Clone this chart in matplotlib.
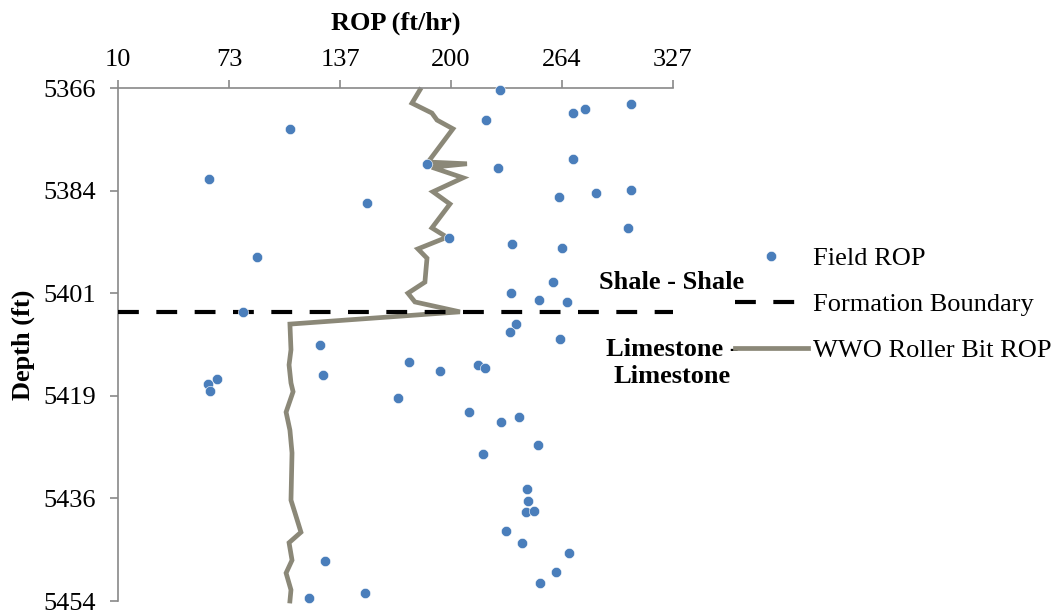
import numpy as np
import matplotlib
matplotlib.use("Agg")
from matplotlib import pyplot as plt
from matplotlib.ticker import FixedLocator, FixedFormatter

plt.rcParams['font.family'] = ['Liberation Serif', 'DejaVu Serif']
plt.rcParams['font.size'] = 19

# field ROP measurements (ft/hr) vs depth (ft)
field_rop = [228.2, 303.0, 276.7, 269.9, 108.2, 220.2, 269.9, 186.5, 227.0, 303.0,
             283.0, 261.9, 62.0, 152.2, 301.3, 199.1, 235.0, 263.6, 89.4, 258.5,
             234.5, 250.5, 266.5, 81.4, 237.3, 233.9, 262.5, 125.4, 176.2, 215.6,
             219.6, 193.9, 127.1, 66.5, 61.4, 62.5, 169.9, 210.5, 239.0, 228.8,
             249.9, 218.5, 243.6, 244.2, 243.0, 247.6, 231.6, 240.8, 267.6, 128.2,
             260.2, 251.0, 151.1, 119.1]
field_depth = [5366.3, 5368.7, 5369.6, 5370.3, 5373.0, 5371.5, 5378.2, 5379.0, 5379.7, 5383.5,
               5384.0, 5384.7, 5381.6, 5385.7, 5390.0, 5391.7, 5392.8, 5393.4, 5395.0, 5399.3,
               5401.2, 5402.4, 5402.7, 5404.4, 5406.5, 5407.9, 5409.1, 5410.1, 5413.0, 5413.5,
               5414.0, 5414.5, 5415.2, 5415.9, 5416.8, 5418.0, 5419.2, 5421.6, 5422.4, 5423.3,
               5427.2, 5428.8, 5434.8, 5436.8, 5438.7, 5438.6, 5442.0, 5444.0, 5445.8, 5447.1,
               5449.0, 5450.9, 5452.6, 5453.5]

# WWO roller bit model ROP
model_rop = [182.5, 177.9, 189.3, 192.2, 201.3, 187.1, 209.3, 189.3, 207.1, 189.9,
             199.6, 189.3, 197.9, 181.3, 186.5, 185.9, 185.3, 175.6, 179.6, 205.3,
             108.2, 108.8, 107.7, 108.8, 110.0, 106.0, 108.2, 109.4, 108.8, 111.1,
             114.5, 107.7, 109.4, 106.0, 108.8, 108.2]
model_depth = [5366.3, 5368.6, 5370.3, 5371.5, 5373.0, 5378.7, 5379.0, 5379.6, 5381.4, 5383.8,
               5385.9, 5390.0, 5391.6, 5393.6, 5395.2, 5397.2, 5399.3, 5401.2, 5402.7, 5404.4,
               5406.5, 5410.9, 5413.5, 5416.6, 5418.1, 5421.6, 5424.7, 5428.6, 5436.7, 5438.9,
               5442.2, 5444.0, 5447.0, 5449.2, 5452.1, 5454.0]

boundary_depth = 5404.4
x_min, x_max = 10, 327
d_min, d_max = 5366, 5454

W, H = 1057, 616
fig = plt.figure(figsize=(W / 100, H / 100), dpi=100)
ax = fig.add_axes([118 / W, 1 - 601 / H, 555 / W, 513 / H])

ax.plot(model_rop, model_depth, color='#8B8878', lw=3.4, solid_joinstyle='miter',
        label='WWO Roller Bit ROP', zorder=2, clip_on=False)
ax.plot([x_min, x_max], [boundary_depth, boundary_depth], color='black', lw=3,
        dashes=(5, 4.2), label='Formation Boundary', zorder=3)
ax.plot(field_rop, field_depth, 'o', color='#4A7EBB', markersize=7.4,
        markeredgecolor='white', markeredgewidth=0.4, label='Field ROP',
        zorder=4, clip_on=False)

ax.set_xlim(x_min, x_max)
ax.set_ylim(d_max, d_min)

xt = np.linspace(x_min, x_max, 6)
yt = np.linspace(d_min, d_max, 6)
ax.xaxis.set_major_locator(FixedLocator(xt))
ax.xaxis.set_major_formatter(FixedFormatter(['%.0f' % v for v in xt]))
ax.yaxis.set_major_locator(FixedLocator(yt))
ax.yaxis.set_major_formatter(FixedFormatter(['%.0f' % v for v in yt]))

ax.xaxis.tick_top()
ax.xaxis.set_label_position('top')
for side in ['right', 'bottom']:
    ax.spines[side].set_visible(False)
for side in ['left', 'top']:
    ax.spines[side].set_color('#898989')
    ax.spines[side].set_linewidth(1.2)
ax.tick_params(axis='both', direction='out', length=6, width=1.2, color='#898989',
               labelsize=19)
ax.tick_params(axis='y', pad=10)
ax.tick_params(axis='x', pad=6)

ax.set_xlabel('ROP (ft/hr)', fontweight='bold', labelpad=14)
ax.set_ylabel('Depth (ft)', fontweight='bold', labelpad=6)

# formation labels beside the boundary
fig.text(672 / W, 1 - 282 / H, 'Shale - Shale', fontweight='bold',
         ha='center', va='center')
fig.text(672 / W, 1 - 363 / H, 'Limestone -\nLimestone', fontweight='bold',
         ha='center', va='center', linespacing=1.25)

handles, labels = ax.get_legend_handles_labels()
order = [2, 1, 0]
fig.legend([handles[i] for i in order], [labels[i] for i in order],
           loc='upper left', bbox_to_anchor=(735 / W, 1 - 247 / H),
           frameon=False, borderpad=0, borderaxespad=0, handlelength=2.75,
           handletextpad=0.2, labelspacing=0.85, numpoints=1)

fig.savefig('out.png', dpi=100)
